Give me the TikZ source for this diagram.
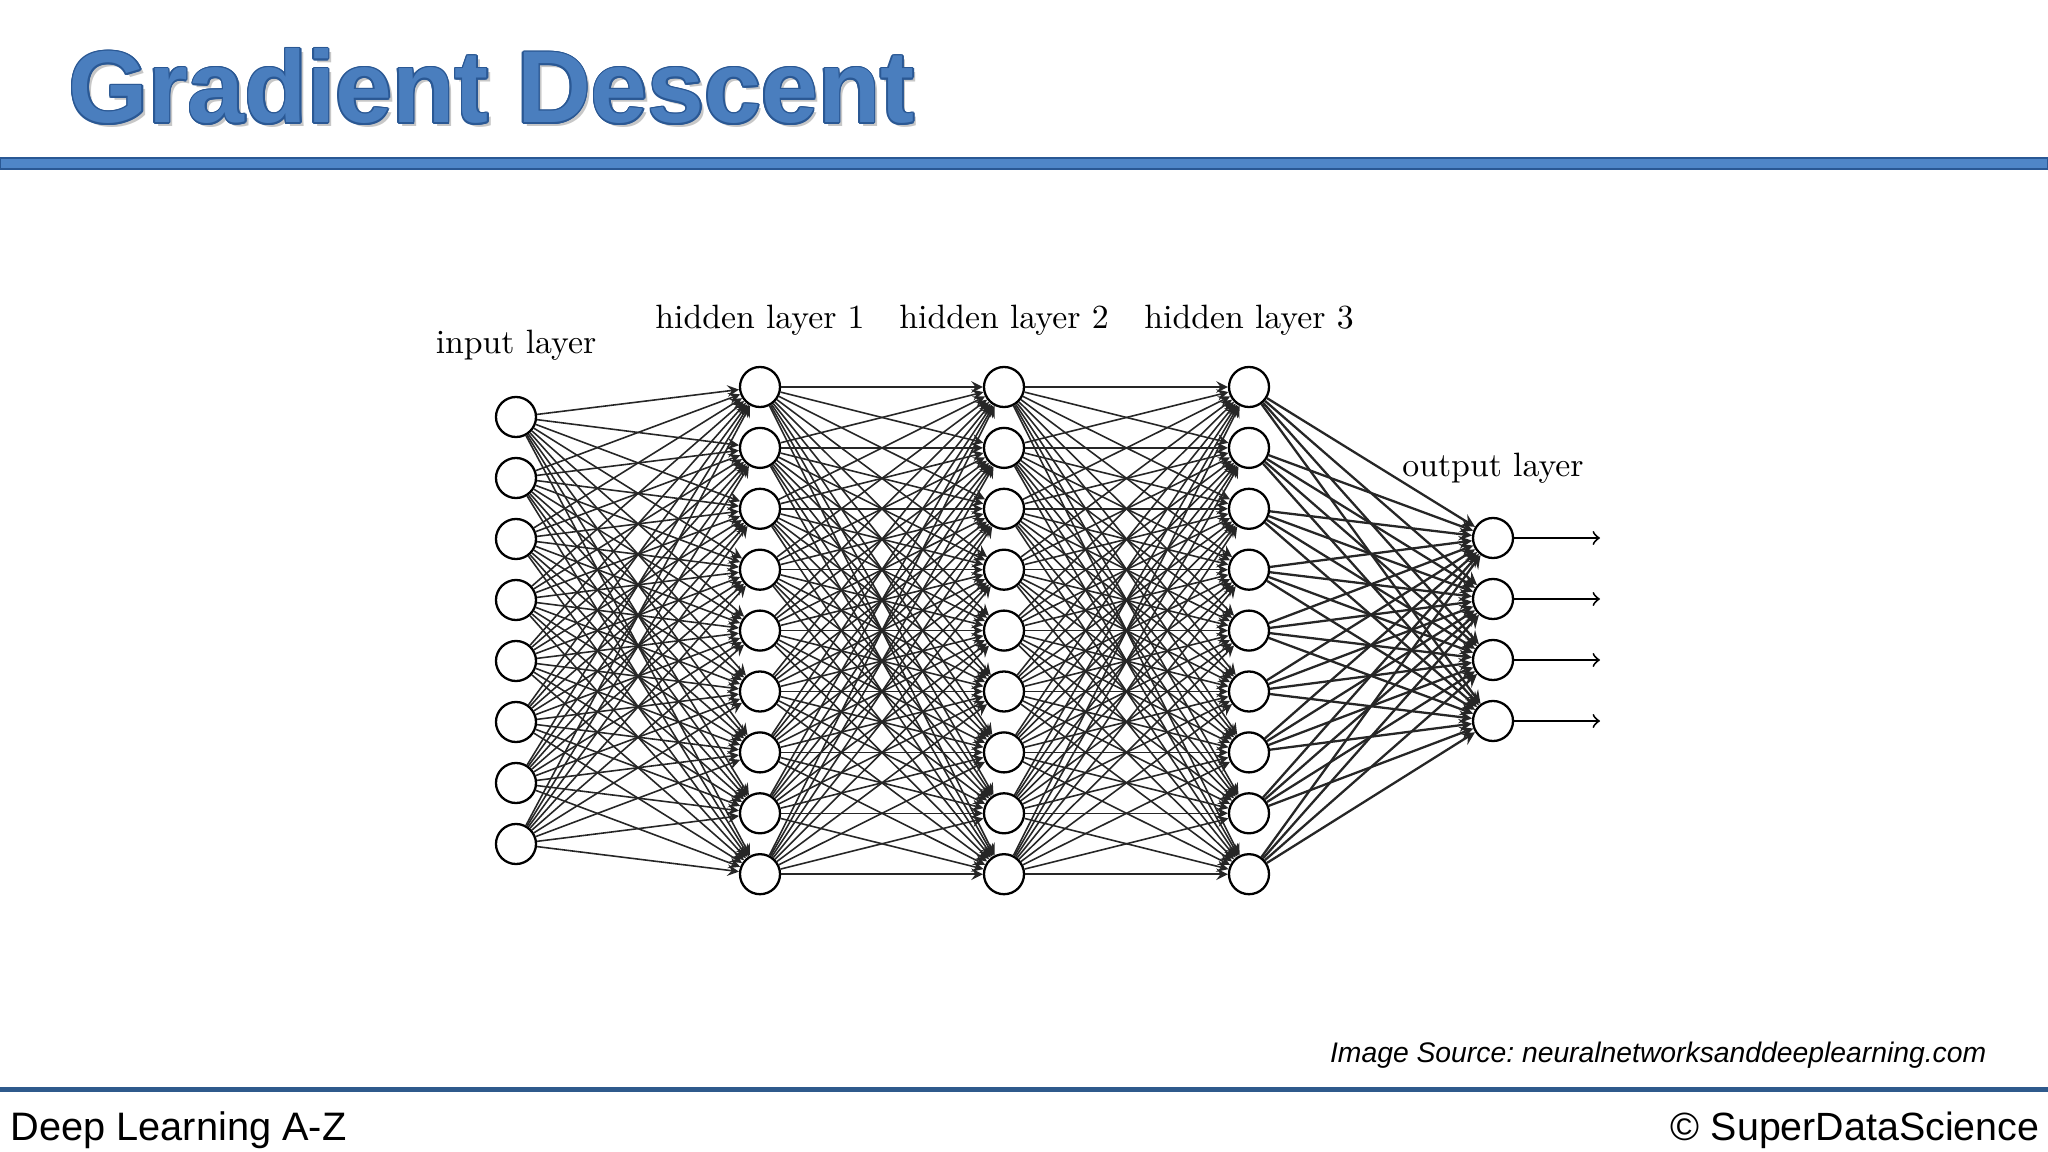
\documentclass[tikz,border=0pt]{standalone}
\usepackage{fontspec}
\newfontfamily\arialfont{Liberation Sans}
\usepackage{tikz}
\definecolor{titlefill}{HTML}{4A7EBE}
\definecolor{titleedge}{HTML}{2A5894}
\definecolor{barfill}{HTML}{4F86C8}
\definecolor{footblue}{HTML}{2F5A8C}
\frenchspacing

\begin{document}
\begin{tikzpicture}[x=0.01cm, y=-0.01cm, >=stealth,
		neuron/.style={circle, draw, line width=0.65pt, fill=white, minimum size=0.4cm, inner sep=0pt},
		synapse/.style={->, line width=0.45pt, black!85},
		layerlabel/.style={anchor=base, inner sep=0pt, font=\fontsize{9.6}{11}\selectfont},
		titletext/.style={anchor=base west, inner sep=0pt, font=\arialfont\bfseries\fontsize{29.05}{34}\selectfont}]
		\fill[white] (0,0) rectangle (2048,1152);
		\useasboundingbox (0,0) rectangle (2048,1152);
		% title with shadow and outline
		\node[titletext, text=black!22] at (71.5,126.5) {Gradient Descent};
		\foreach \a in {0,30,...,330}
			\node[titletext, text=titleedge] at ({68+1.6*cos(\a)},{123+1.6*sin(\a)}) {Gradient Descent};
		\node[titletext, text=titlefill] (title) at (68,123) {Gradient Descent};
		\draw[line width=0.8pt, draw=titleedge, fill=barfill] (0,158) rectangle (2048,169);
		% input layer
		\node[layerlabel] (inlabel) at (516,354) {input layer};
		\foreach \i in {1,...,8}
			\node[neuron] (in-\i) at (516,{417+(\i-1)*61}) {};
		% hidden layers
		\foreach \l/\x in {1/760,2/1004,3/1249} {
			\node[layerlabel] (hlabel-\l) at (\x,329) {hidden layer \l};
			\foreach \i in {1,...,9}
				\node[neuron] (h\l-\i) at (\x,{387+(\i-1)*60.9}) {};
		}
		% output layer
		\node[layerlabel] (outlabel) at (1493,477) {output layer};
		\foreach \i in {1,...,4} {
			\node[neuron] (out-\i) at (1493,{538+(\i-1)*61}) {};
			\coordinate (end-\i) at (1600,{538+(\i-1)*61});
			\draw[-to, line width=0.55pt] (out-\i) -- (end-\i);
		}
		% connections
		\foreach \i in {1,...,8}
			\foreach \j in {1,...,9}
				\draw[synapse] (in-\i) -- (h1-\j);
		\foreach \i in {1,...,9}
			\foreach \j in {1,...,9} {
				\draw[synapse] (h1-\i) -- (h2-\j);
				\draw[synapse] (h2-\i) -- (h3-\j);
			}
		\foreach \i in {1,...,9}
			\foreach \j in {1,...,4}
				\draw[synapse, line width=0.65pt] (h3-\i) -- (out-\j);
		% footer
		\node[anchor=base east, inner sep=0pt, font=\arialfont\itshape\fontsize{8.05}{10}\selectfont] (source) at (1987,1062) {Image Source: neuralnetworksanddeeplearning.com};
		\fill[footblue] (0,1087) rectangle (2048,1091.5);
		\node[anchor=base west, inner sep=0pt, font=\arialfont\fontsize{11.3}{13}\selectfont] (course) at (10,1140) {Deep Learning A-Z};
		\node[anchor=base east, inner sep=0pt, font=\arialfont\fontsize{11.2}{13}\selectfont] (brand) at (2040,1140) {© SuperDataScience};
	\end{tikzpicture}
\end{document}
